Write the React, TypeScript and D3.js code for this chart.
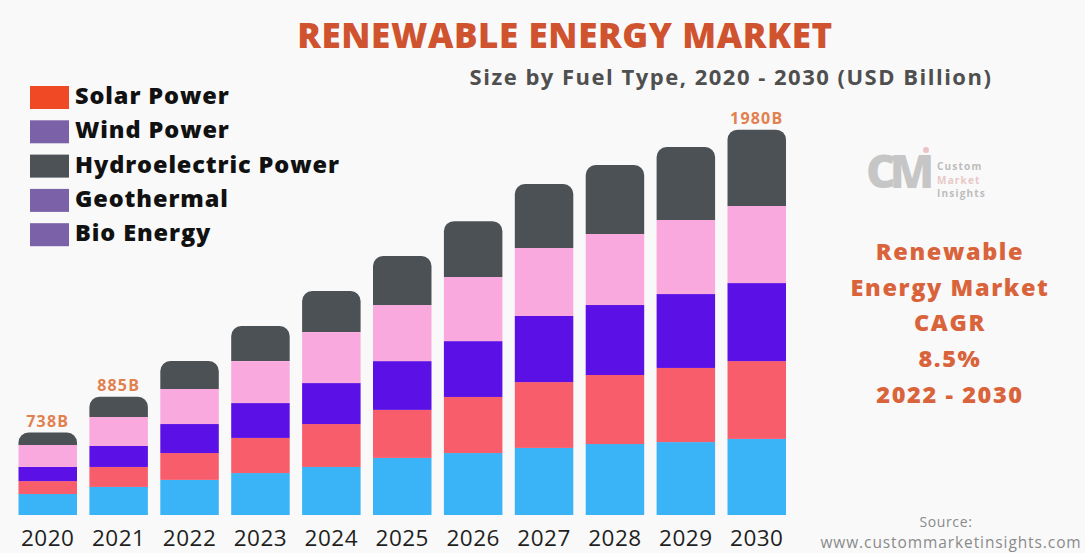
import { useEffect, useRef } from 'react';
import * as d3 from 'd3';

// Years along the x axis
const years = ['2020', '2021', '2022', '2023', '2024', '2025', '2026', '2027', '2028', '2029', '2030'];

// Segment values (USD billion), bottom to top
const solar = [486, 515, 544, 572, 597, 634, 654, 675, 691, 699, 712];
const wind = [53, 82, 110, 144, 176, 197, 230, 270, 283, 304, 319];
const geothermal = [58, 86, 119, 143, 168, 200, 229, 271, 287, 303, 320];
const bio = [90, 119, 144, 172, 209, 230, 263, 279, 291, 304, 316];
const hydro = [51, 83, 114, 144, 168, 201, 229, 262, 283, 299, 313];

// Value labels shown above some bars
const totalLabels: Record<string, string> = { '2020': '738B', '2021': '885B', '2030': '1980B' };

const seriesKeys = ['solar', 'wind', 'geothermal', 'bio', 'hydro'];
const barColors: Record<string, string> = {
  solar: '#3ab4f6',
  wind: '#f85d6b',
  geothermal: '#5b10e6',
  bio: '#f9a9dd',
  hydro: '#4c5156',
};

const legendItems = [
  { label: 'Solar Power', color: '#ef4a25' },
  { label: 'Wind Power', color: '#7b62a8' },
  { label: 'Hydroelectric Power', color: '#4d5257' },
  { label: 'Geothermal', color: '#7b62a8' },
  { label: 'Bio Energy', color: '#7b62a8' },
];

const cagrLines = ['Renewable', 'Energy Market', 'CAGR', '8.5%', '2022 - 2030'];

const FONT = '"Open Sans", "DejaVu Sans", sans-serif';

export default function App() {
  const svgRef = useRef<SVGSVGElement>(null);

  useEffect(() => {
    if (!svgRef.current) return;
    const width = 1085;
    const height = 553;
    const baseline = 515;

    const svg = d3.select(svgRef.current);
    svg.selectAll('*').remove();
    svg.attr('width', width).attr('height', height).attr('viewBox', `0 0 ${width} ${height}`);

    svg.append('rect').attr('width', width).attr('height', height).attr('fill', '#f9f9f9');

    const rows = years.map((year, i) => ({
      year,
      solar: solar[i],
      wind: wind[i],
      geothermal: geothermal[i],
      bio: bio[i],
      hydro: hydro[i],
    }));

    const stacked = d3.stack<(typeof rows)[number]>().keys(seriesKeys)(rows);

    const x = d3.scaleBand().domain(years).range([18.5, 786]).paddingInner(0.175).paddingOuter(0);
    // value axis is cut, starting well above zero
    const y = d3.scaleLinear().domain([400, 2000]).range([baseline, 124.8]).clamp(true);

    const bw = x.bandwidth();
    const r = 10;

    const g = svg.append('g');
    stacked.forEach((layer) => {
      const isTop = layer.key === 'hydro';
      layer.forEach((d) => {
        const x0 = x(d.data.year) ?? 0;
        const yTop = y(d[1]);
        const yBot = y(d[0]);
        if (isTop) {
          const p = d3.path();
          p.moveTo(x0, yBot);
          p.lineTo(x0, yTop + r);
          p.arcTo(x0, yTop, x0 + r, yTop, r);
          p.lineTo(x0 + bw - r, yTop);
          p.arcTo(x0 + bw, yTop, x0 + bw, yTop + r, r);
          p.lineTo(x0 + bw, yBot);
          p.closePath();
          g.append('path').attr('d', p.toString()).attr('fill', barColors[layer.key]);
        } else {
          g.append('rect')
            .attr('x', x0)
            .attr('y', yTop)
            .attr('width', bw)
            .attr('height', yBot - yTop)
            .attr('fill', barColors[layer.key]);
        }
      });
    });

    // total labels
    const last = stacked[stacked.length - 1];
    last.forEach((d) => {
      const label = totalLabels[d.data.year];
      if (!label) return;
      const x0 = x(d.data.year) ?? 0;
      svg
        .append('text')
        .attr('x', x0 + bw / 2)
        .attr('y', y(d[1]) - 6)
        .attr('text-anchor', 'middle')
        .attr('font-family', FONT)
        .attr('font-weight', 700)
        .attr('font-size', 16)
        .attr('letter-spacing', 1.2)
        .attr('fill', '#e2804f')
        .text(label);
    });

    // year labels
    svg
      .append('g')
      .selectAll('text')
      .data(years)
      .join('text')
      .attr('x', (d) => (x(d) ?? 0) + bw / 2)
      .attr('y', 546)
      .attr('text-anchor', 'middle')
      .attr('font-family', FONT)
      .attr('font-size', 22.5)
      .attr('letter-spacing', 0.5)
      .attr('fill', '#1f1f1f')
      .text((d) => d);

    // title
    svg
      .append('text')
      .attr('x', 565)
      .attr('y', 48)
      .attr('text-anchor', 'middle')
      .attr('font-family', FONT)
      .attr('font-weight', 800)
      .attr('font-size', 35)
      .attr('letter-spacing', 0.6)
      .attr('fill', '#d0532f')
      .text('RENEWABLE ENERGY MARKET');

    svg
      .append('text')
      .attr('x', 731)
      .attr('y', 85)
      .attr('text-anchor', 'middle')
      .attr('font-family', FONT)
      .attr('font-weight', 700)
      .attr('font-size', 22)
      .attr('letter-spacing', 1.5)
      .attr('fill', '#4f4f4f')
      .text('Size by Fuel Type, 2020 - 2030 (USD Billion)');

    // legend
    const legend = svg.append('g');
    legendItems.forEach((item, i) => {
      const ly = 86 + i * 34.3;
      legend.append('rect').attr('x', 30).attr('y', ly).attr('width', 39).attr('height', 23).attr('fill', item.color);
      legend
        .append('text')
        .attr('x', 75)
        .attr('y', ly + 18)
        .attr('font-family', FONT)
        .attr('font-weight', 800)
        .attr('font-size', 23.5)
        .attr('letter-spacing', 0.9)
        .attr('fill', '#111')
        .text(item.label);
    });

    // logo
    const logo = svg.append('g').attr('opacity', 0.75);
    logo
      .append('text')
      .attr('x', 866)
      .attr('y', 188)
      .attr('font-family', FONT)
      .attr('font-weight', 800)
      .attr('font-size', 46)
      .attr('letter-spacing', -6)
      .attr('fill', '#b5b5b5')
      .text('CM');
    logo.append('circle').attr('cx', 926).attr('cy', 150).attr('r', 3).attr('fill', '#e6b3b3');
    [
      { t: 'Custom', c: '#a9a9a9', yy: 170 },
      { t: 'Market', c: '#e4b8b8', yy: 183.5 },
      { t: 'Insights', c: '#a9a9a9', yy: 197 },
    ].forEach((l) => {
      logo
        .append('text')
        .attr('x', 937)
        .attr('y', l.yy)
        .attr('font-family', FONT)
        .attr('font-weight', 700)
        .attr('font-size', 10)
        .attr('letter-spacing', 1.2)
        .attr('fill', l.c)
        .text(l.t);
    });

    // CAGR block
    svg
      .append('g')
      .selectAll('text')
      .data(cagrLines)
      .join('text')
      .attr('x', 950)
      .attr('y', (_, i) => 260 + i * 35.7)
      .attr('text-anchor', 'middle')
      .attr('font-family', FONT)
      .attr('font-weight', 800)
      .attr('font-size', 23.5)
      .attr('letter-spacing', 1.6)
      .attr('fill', '#d9643c')
      .text((d) => d);

    // source
    svg
      .append('text')
      .attr('x', 946)
      .attr('y', 527)
      .attr('text-anchor', 'middle')
      .attr('font-family', FONT)
      .attr('font-size', 14)
      .attr('letter-spacing', 0.6)
      .attr('fill', '#8a8a8a')
      .text('Source:');
    svg
      .append('text')
      .attr('x', 951)
      .attr('y', 548)
      .attr('text-anchor', 'middle')
      .attr('font-family', FONT)
      .attr('font-size', 15.5)
      .attr('letter-spacing', 0.9)
      .attr('fill', '#8a8a8a')
      .text('www.custommarketinsights.com');
  }, []);

  return <svg ref={svgRef} style={{ position: 'absolute', left: 0, top: 0 }} />;
}
